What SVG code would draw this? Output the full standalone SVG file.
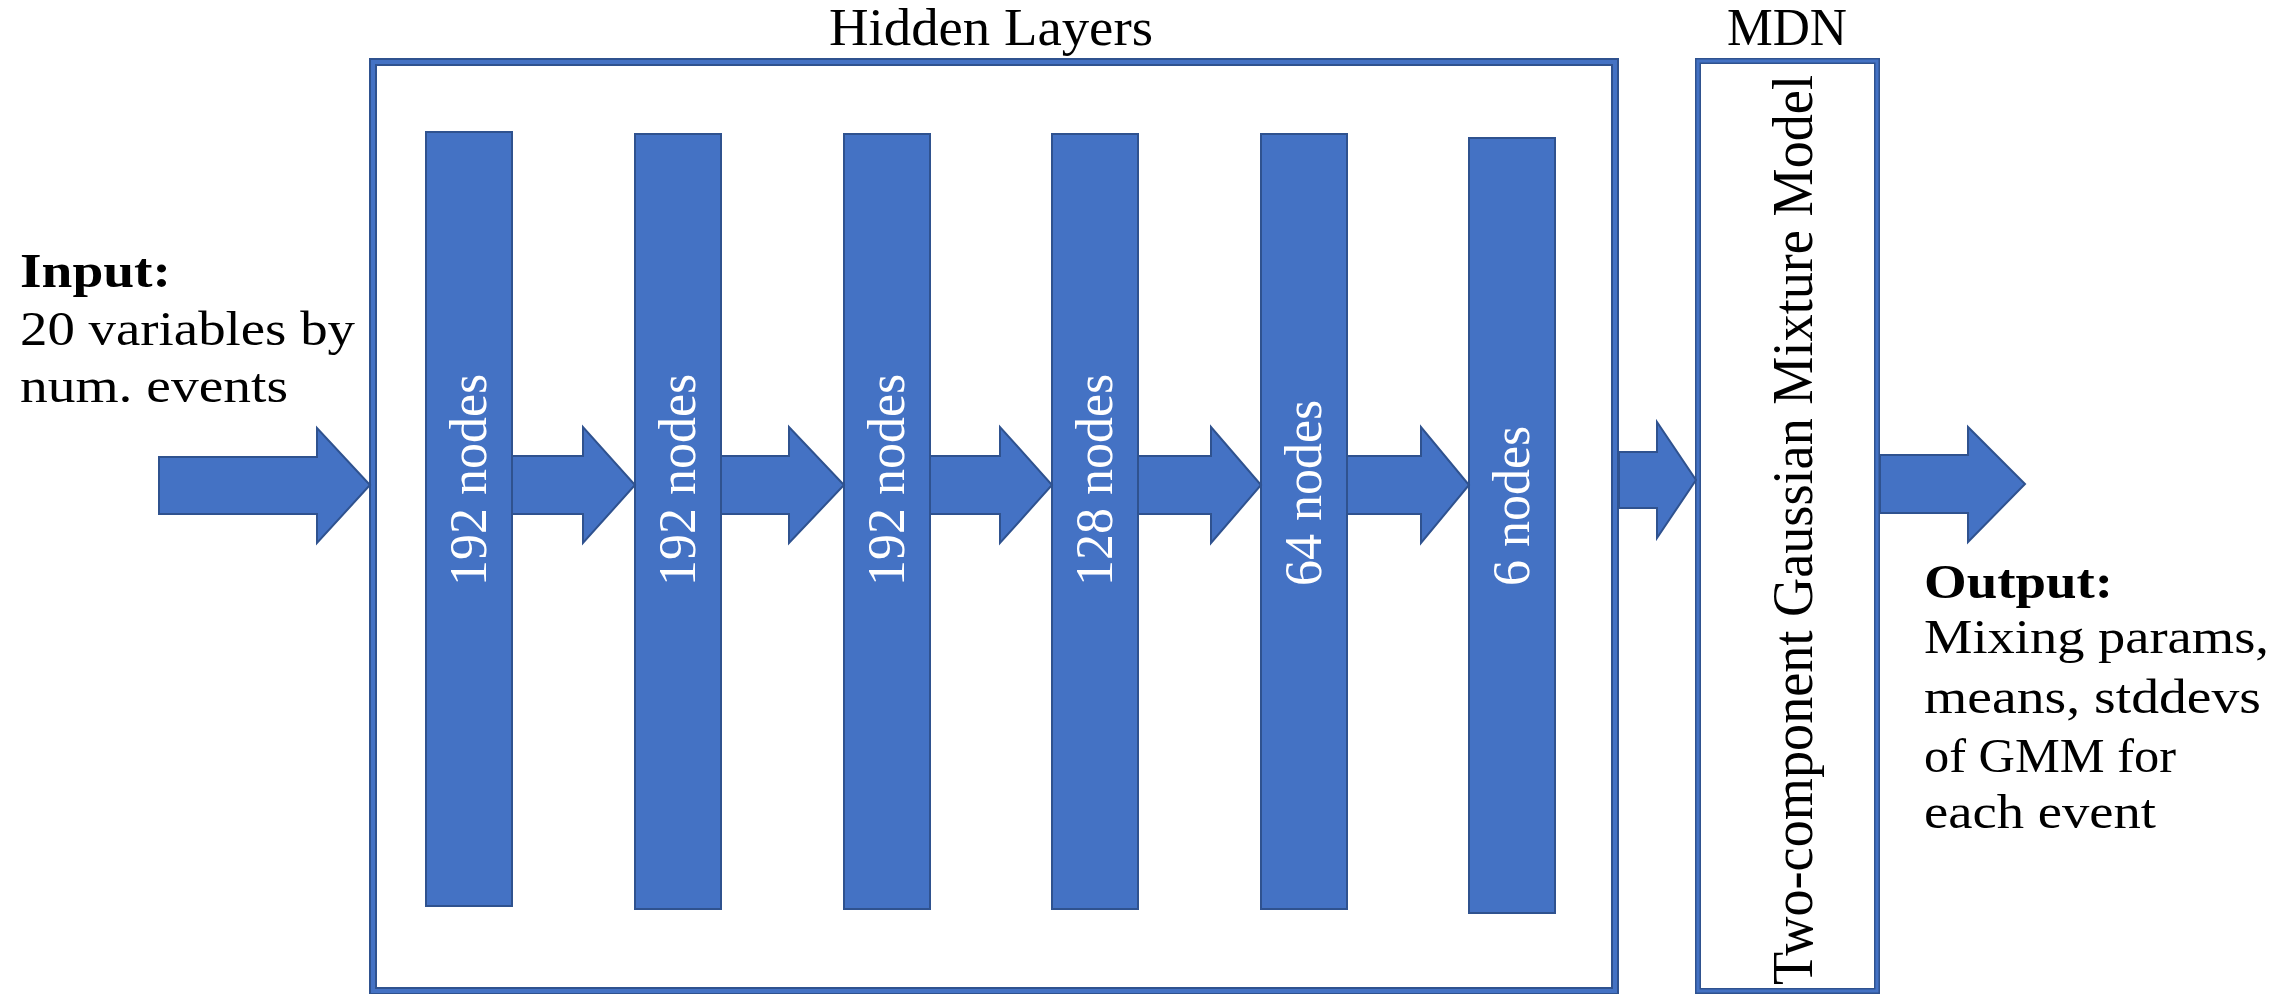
<svg xmlns="http://www.w3.org/2000/svg" width="2288" height="994" viewBox="0 0 2288 994">
  <style>
    .frame-out { fill: none; stroke: #2F528F; }
    .frame-in { fill: none; stroke: #4472C4; }
    .bar { fill: #4472C4; stroke: #2F528F; stroke-width: 2; }
    .arrow { fill: #4472C4; stroke: #2F528F; stroke-width: 2; stroke-linejoin: miter; }
    .lbl { font-family: "Liberation Serif", "Times New Roman", serif; fill: #000; }
    .bar-lbl { font-family: "Liberation Serif", "Times New Roman", serif; font-size: 52px; fill: #ffffff; }
  </style>
  <rect width="2288" height="994" fill="#ffffff"/>

  <!-- Hidden layers container -->
  <g id="hidden-layers">
    <rect class="frame-out" x="373" y="62" width="1242" height="929" stroke-width="8"/>
    <rect class="frame-in" x="373" y="62" width="1242" height="929" stroke-width="4"/>
    <text class="lbl" x="829" y="45" font-size="52" textLength="324" lengthAdjust="spacingAndGlyphs">Hidden Layers</text>
  </g>

  <!-- MDN container -->
  <g id="mdn">
    <rect class="frame-out" x="1698" y="61" width="179" height="930" stroke-width="6"/>
    <rect class="frame-in" x="1698" y="61" width="179" height="930" stroke-width="3"/>
    <text class="lbl" x="1727" y="45" font-size="52" textLength="120" lengthAdjust="spacingAndGlyphs">MDN</text>
    <text class="lbl" transform="translate(1812,985) rotate(-90)" font-size="56" textLength="910" lengthAdjust="spacingAndGlyphs">Two-component Gaussian Mixture Model</text>
  </g>

  <!-- Layer bars -->
  <g id="layer1">
    <rect class="bar" x="426" y="132" width="86" height="774"/>
    <text class="bar-lbl" transform="translate(486,586) rotate(-90)">192 nodes</text>
  </g>
  <g id="layer2">
    <rect class="bar" x="635" y="134" width="86" height="775"/>
    <text class="bar-lbl" transform="translate(695,586) rotate(-90)">192 nodes</text>
  </g>
  <g id="layer3">
    <rect class="bar" x="844" y="134" width="86" height="775"/>
    <text class="bar-lbl" transform="translate(904,586) rotate(-90)">192 nodes</text>
  </g>
  <g id="layer4">
    <rect class="bar" x="1052" y="134" width="86" height="775"/>
    <text class="bar-lbl" transform="translate(1112,586) rotate(-90)">128 nodes</text>
  </g>
  <g id="layer5">
    <rect class="bar" x="1261" y="134" width="86" height="775"/>
    <text class="bar-lbl" transform="translate(1321,586) rotate(-90)">64 nodes</text>
  </g>
  <g id="layer6">
    <rect class="bar" x="1469" y="138" width="86" height="775"/>
    <text class="bar-lbl" transform="translate(1529,586) rotate(-90)">6 nodes</text>
  </g>

  <!-- Input / output labels -->
  <g id="input">
    <text class="lbl" x="20" y="287" font-size="48" font-weight="bold" textLength="151" lengthAdjust="spacingAndGlyphs">Input:</text>
    <text class="lbl" x="20" y="345" font-size="48" textLength="335" lengthAdjust="spacingAndGlyphs">20 variables by</text>
    <text class="lbl" x="20" y="402" font-size="48" textLength="268" lengthAdjust="spacingAndGlyphs">num. events</text>
  </g>
  <g id="output">
    <text class="lbl" x="1924" y="598" font-size="48" font-weight="bold" textLength="189" lengthAdjust="spacingAndGlyphs">Output:</text>
    <text class="lbl" x="1924" y="653" font-size="48" textLength="345" lengthAdjust="spacingAndGlyphs">Mixing params,</text>
    <text class="lbl" x="1924" y="713" font-size="48" textLength="337" lengthAdjust="spacingAndGlyphs">means, stddevs</text>
    <text class="lbl" x="1924" y="772" font-size="48" textLength="252" lengthAdjust="spacingAndGlyphs">of GMM for</text>
    <text class="lbl" x="1924" y="828" font-size="48" textLength="232" lengthAdjust="spacingAndGlyphs">each event</text>
  </g>

  <!-- Block arrows between stages -->
  <g id="connectors">
    <polygon class="arrow" points="159,457 317,457 317,428 370,485 317,543 317,514 159,514"/>
    <polygon class="arrow" points="512,456 583,456 583,427 635,485 583,543 583,514 512,514"/>
    <polygon class="arrow" points="721,456 789,456 789,427 844,485 789,543 789,514 721,514"/>
    <polygon class="arrow" points="930,456 1000,456 1000,427 1052,485 1000,543 1000,514 930,514"/>
    <polygon class="arrow" points="1138,456 1211,456 1211,427 1261,485 1211,543 1211,514 1138,514"/>
    <polygon class="arrow" points="1347,456 1421,456 1421,427 1469,485 1421,543 1421,514 1347,514"/>
    <polygon class="arrow" points="1619,452 1657,452 1657,422 1696,480 1657,538 1657,508 1619,508"/>
    <polygon class="arrow" points="1880,455 1968,455 1968,427 2025,484 1968,542 1968,513 1880,513"/>
  </g>
</svg>
